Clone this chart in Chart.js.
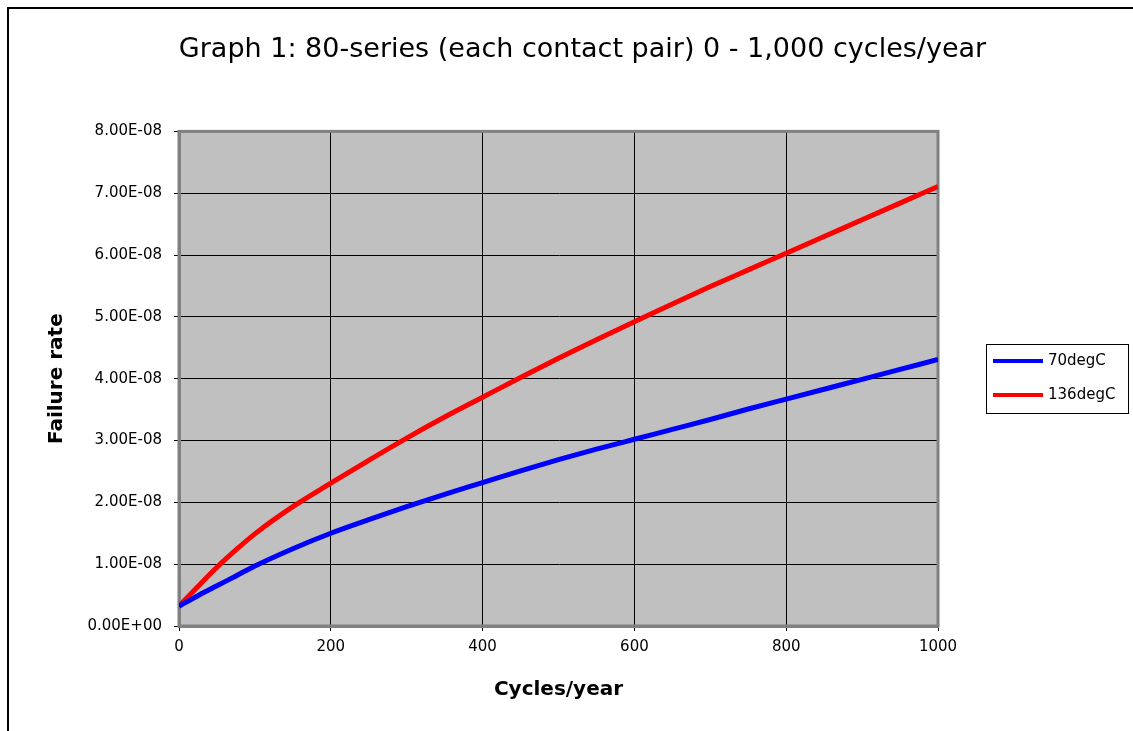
<!DOCTYPE html>
<html>
<head>
<meta charset="utf-8">
<title>Graph 1</title>
<script src="https://cdn.jsdelivr.net/npm/chart.js@4.4.1/dist/chart.umd.min.js"></script>
<style>
  html, body { margin: 0; padding: 0; background: #fff; overflow: hidden; }
  #wrap { position: relative; width: 1133px; height: 731px; }
</style>
</head>
<body>
<div id="wrap"><canvas id="chart" width="1133" height="731"></canvas></div>
<script>
// ---------------- DATA ----------------
const cycles = [0, 25, 50, 75, 100, 150, 200, 250, 300, 350, 400, 450, 500, 550, 600, 650, 700, 750, 800, 850, 900, 950, 1000];
const rate70 = [0.32e-8, 0.49e-8, 0.65e-8, 0.81e-8, 0.97e-8, 1.25e-8, 1.50e-8, 1.72e-8, 1.93e-8, 2.13e-8, 2.32e-8, 2.51e-8, 2.69e-8, 2.86e-8, 3.02e-8, 3.18e-8, 3.34e-8, 3.51e-8, 3.67e-8, 3.83e-8, 3.99e-8, 4.15e-8, 4.31e-8];
const rate136 = [0.32e-8, 0.64e-8, 0.95e-8, 1.23e-8, 1.49e-8, 1.93e-8, 2.31e-8, 2.68e-8, 3.04e-8, 3.38e-8, 3.70e-8, 4.02e-8, 4.33e-8, 4.63e-8, 4.92e-8, 5.21e-8, 5.49e-8, 5.76e-8, 6.03e-8, 6.30e-8, 6.57e-8, 6.84e-8, 7.11e-8];
const seriesNames = ["70degC", "136degC"];
const xTicks = [0, 200, 400, 600, 800, 1000];
const yTicks = [0, 1e-8, 2e-8, 3e-8, 4e-8, 5e-8, 6e-8, 7e-8, 8e-8];

const FONT = "'DejaVu Sans', 'Liberation Sans', Arial, sans-serif";

function toPoints(xs, ys) {
  return xs.map((x, i) => ({ x: x, y: ys[i] }));
}

// 8.00E-08 style labels
function sciLabel(v) {
  const parts = Number(v).toExponential(2).split("e");
  const exp = parseInt(parts[1], 10);
  const sign = exp < 0 ? "-" : "+";
  return parts[0] + "E" + sign + String(Math.abs(exp)).padStart(2, "0");
}

// ---------------- PLUGINS ----------------
const frame = {
  id: "frame",
  beforeDraw(chart) {
    const { ctx, chartArea: a } = chart;
    ctx.save();
    ctx.fillStyle = "#fff";
    ctx.fillRect(0, 0, chart.width, chart.height);
    // outer chart border
    ctx.strokeStyle = "#000";
    ctx.lineWidth = 2;
    ctx.beginPath();
    ctx.moveTo(8, chart.height);
    ctx.lineTo(8, 8);
    ctx.lineTo(chart.width, 8);
    ctx.stroke();
    // plot area
    ctx.fillStyle = "#c0c0c0";
    ctx.fillRect(a.left, a.top, a.right - a.left, a.bottom - a.top);
    ctx.restore();
  },
  beforeDatasetsDraw(chart) {
    const { ctx, chartArea: a } = chart;
    ctx.save();
    ctx.strokeStyle = "#808080";
    ctx.lineWidth = 3;
    ctx.strokeRect(a.left, a.top, a.right - a.left, a.bottom - a.top);
    ctx.restore();
  }
};

const boxLegend = {
  id: "boxLegend",
  afterDraw(chart) {
    const ctx = chart.ctx;
    ctx.save();
    ctx.strokeStyle = "#000";
    ctx.lineWidth = 1;
    ctx.strokeRect(986.5, 344.5, 142, 69);
    ctx.font = "15px " + FONT;
    ctx.textBaseline = "middle";
    ctx.textAlign = "left";
    chart.data.datasets.forEach((ds, i) => {
      const y = 361 + i * 34;
      ctx.strokeStyle = ds.borderColor;
      ctx.lineWidth = 4;
      ctx.beginPath();
      ctx.moveTo(993, y);
      ctx.lineTo(1043, y);
      ctx.stroke();
      ctx.fillStyle = "#000";
      ctx.fillText(ds.label, 1048, y);
    });
    ctx.restore();
  }
};

// ---------------- CHART ----------------
new Chart(document.getElementById("chart"), {
  type: "line",
  data: {
    datasets: [
      {
        label: seriesNames[0],
        data: toPoints(cycles, rate70),
        borderColor: "#0000ff",
        borderWidth: 5,
        pointRadius: 0,
        cubicInterpolationMode: "monotone"
      },
      {
        label: seriesNames[1],
        data: toPoints(cycles, rate136),
        borderColor: "#ff0000",
        borderWidth: 5,
        pointRadius: 0,
        cubicInterpolationMode: "monotone"
      }
    ]
  },
  options: {
    responsive: false,
    animation: false,
    layout: { padding: { left: 32, top: 0, right: 0, bottom: 0 } },
    plugins: {
      legend: { display: false },
      tooltip: { enabled: false },
      title: {
        display: true,
        text: "Graph 1: 80-series (each contact pair) 0 - 1,000 cycles/year",
        color: "#000",
        font: { family: FONT, size: 27, weight: "normal" },
        padding: { top: 34, bottom: 65 }
      }
    },
    scales: {
      x: {
        type: "linear",
        min: 0,
        max: 1000,
        afterFit: s => { s.height = 105; },
        afterBuildTicks: s => { s.ticks = xTicks.map(v => ({ value: v })); },
        ticks: {
          color: "#000",
          padding: 7,
          font: { family: FONT, size: 15 },
          callback: v => String(v)
        },
        grid: { color: "#000", lineWidth: 1, tickLength: 5, tickColor: "#000" },
        border: { color: "#808080", width: 3 },
        title: {
          display: true,
          text: "Cycles/year",
          color: "#000",
          font: { family: FONT, size: 20, weight: "bold" },
          padding: { top: 0, bottom: 29 }
        }
      },
      y: {
        min: 0,
        max: 8e-8,
        afterFit: s => { s.width = 147; },
        afterBuildTicks: s => { s.ticks = yTicks.map(v => ({ value: v })); },
        ticks: {
          color: "#000",
          padding: 12,
          font: { family: FONT, size: 15 },
          callback: v => sciLabel(v)
        },
        grid: { color: "#000", lineWidth: 1, tickLength: 5, tickColor: "#000" },
        border: { color: "#808080", width: 3 },
        title: {
          display: true,
          text: "Failure rate",
          color: "#000",
          font: { family: FONT, size: 20, weight: "bold" },
          padding: { top: 13, bottom: 0 }
        }
      },
      // empty right-hand strip that holds the legend
      side: {
        position: "right",
        min: 0,
        max: 1,
        afterFit: s => { s.width = 195; },
        ticks: { display: false },
        grid: { display: false },
        border: { display: false }
      }
    }
  },
  plugins: [frame, boxLegend]
});
</script>
</body>
</html>
